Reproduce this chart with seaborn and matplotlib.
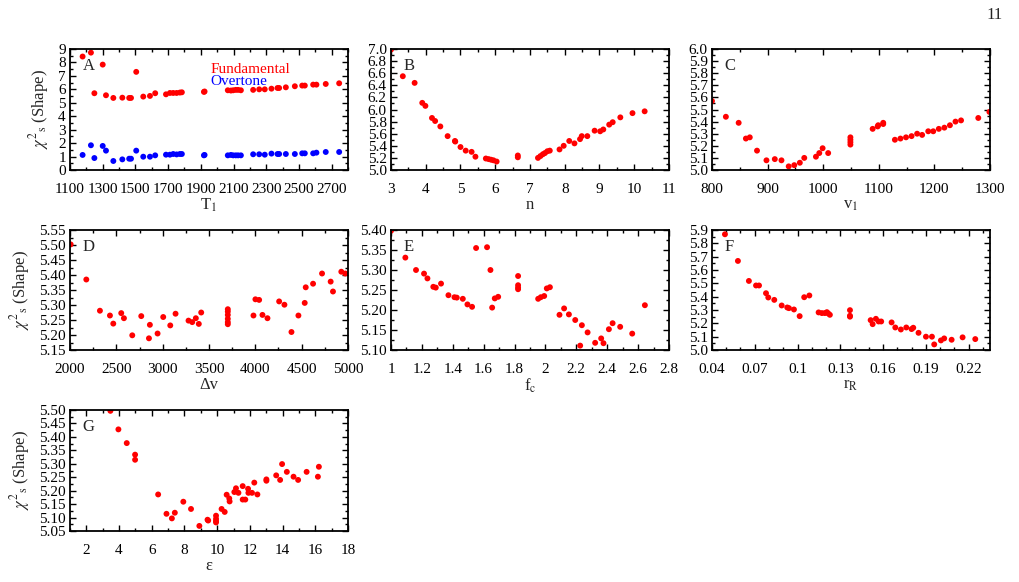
import numpy as np
import pandas as pd
import matplotlib
matplotlib.use("Agg")
import matplotlib.pyplot as plt
import seaborn as sns
from matplotlib.ticker import MultipleLocator, FixedLocator, AutoMinorLocator, FuncFormatter

# ---------------- data ----------------
A_T1 = [1177, 1228, 1249, 1300, 1320, 1365, 1420, 1462, 1473, 1505, 1548, 1589, 1621,
        1687, 1711, 1731, 1752, 1772, 1784, 1919, 1923, 2065, 2084, 2098, 2114, 2128,
        2145, 2220, 2257, 2291, 2332, 2369, 2379, 2420, 2475, 2520, 2536, 2587, 2607,
        2664, 2746]
A_fund = [8.44, 8.73, 5.71, 7.84, 5.56, 5.36, 5.38, 5.36, 5.36, 7.30, 5.46, 5.51, 5.71,
          5.63, 5.73, 5.73, 5.73, 5.76, 5.78, 5.81, 5.84, 5.93, 5.91, 5.93, 5.96, 5.96,
          5.93, 5.96, 6.00, 6.00, 6.05, 6.10, 6.10, 6.15, 6.23, 6.28, 6.28, 6.35, 6.35,
          6.40, 6.45]
A_over = [1.12, 1.84, 0.89, 1.79, 1.44, 0.67, 0.79, 0.84, 0.84, 1.44, 0.99, 0.99, 1.09,
          1.14, 1.14, 1.19, 1.16, 1.19, 1.19, 1.09, 1.12, 1.09, 1.12, 1.09, 1.09, 1.09,
          1.09, 1.17, 1.17, 1.14, 1.22, 1.19, 1.19, 1.19, 1.19, 1.24, 1.24, 1.24, 1.29,
          1.34, 1.34]

B_n = [3.00, 3.34, 3.68, 3.90, 3.99, 4.18, 4.27, 4.42, 4.63, 4.84, 4.85, 5.00, 5.15, 5.32,
       5.43, 5.73, 5.81, 5.88, 5.95, 6.04, 6.65, 6.65, 7.23, 7.30, 7.37, 7.43, 7.50, 7.57,
       7.85, 7.97, 8.13, 8.28, 8.44, 8.49, 8.65, 8.86, 9.02, 9.11, 9.28, 9.38, 9.60, 9.95,
       10.30]
B_chi = [6.99, 6.55, 6.44, 6.11, 6.06, 5.86, 5.81, 5.72, 5.56, 5.48, 5.47, 5.38, 5.32, 5.30,
         5.22, 5.19, 5.18, 5.17, 5.16, 5.14, 5.24, 5.21, 5.20, 5.23, 5.26, 5.28, 5.31, 5.32,
         5.34, 5.40, 5.48, 5.44, 5.51, 5.56, 5.56, 5.65, 5.64, 5.67, 5.75, 5.79, 5.87, 5.94,
         5.97]

C_v1 = [800, 825, 848, 861, 868, 881, 898, 913, 925, 938, 948, 958, 966, 987, 993, 999,
        1009, 1049, 1049, 1049, 1049, 1089, 1098, 1099, 1108, 1108, 1129, 1139, 1149, 1159,
        1169, 1178, 1189, 1198, 1208, 1218, 1228, 1238, 1248, 1279, 1299]
C_chi = [5.57, 5.44, 5.39, 5.26, 5.27, 5.16, 5.08, 5.09, 5.08, 5.03, 5.04, 5.06, 5.10, 5.11,
         5.14, 5.18, 5.14, 5.27, 5.25, 5.23, 5.21, 5.34, 5.36, 5.37, 5.38, 5.39, 5.25, 5.26,
         5.27, 5.28, 5.30, 5.29, 5.32, 5.32, 5.34, 5.35, 5.37, 5.40, 5.41, 5.43, 5.48]

D_dv = [2007, 2176, 2323, 2431, 2467, 2553, 2582, 2672, 2769, 2862, 2852, 2945, 3006, 3082,
        3139, 3279, 3319, 3358, 3390, 3416, 3703, 3703, 3703, 3703, 3703, 3703, 3980, 4001,
        4041, 4077, 4131, 4257, 4314, 4390, 4465, 4533, 4544, 4623, 4720, 4813, 4838, 4928,
        4971]
D_chi = [5.502, 5.385, 5.281, 5.265, 5.238, 5.273, 5.256, 5.199, 5.263, 5.234, 5.189, 5.205,
         5.260, 5.232, 5.271, 5.248, 5.243, 5.256, 5.237, 5.275, 5.286, 5.278, 5.267, 5.254,
         5.243, 5.236, 5.265, 5.319, 5.317, 5.267, 5.256, 5.312, 5.301, 5.210, 5.265, 5.307,
         5.359, 5.371, 5.405, 5.378, 5.345, 5.411, 5.405]

E_fc = [1.000, 1.093, 1.162, 1.214, 1.236, 1.274, 1.290, 1.324, 1.372, 1.411, 1.426, 1.465,
        1.495, 1.525, 1.551, 1.622, 1.644, 1.655, 1.672, 1.694, 1.823, 1.823, 1.823, 1.823,
        1.953, 1.970, 1.992, 2.009, 2.029, 2.091, 2.121, 2.152, 2.193, 2.225, 2.236, 2.273,
        2.322, 2.361, 2.376, 2.411, 2.435, 2.484, 2.562, 2.644]
E_chi = [5.398, 5.331, 5.300, 5.291, 5.279, 5.258, 5.256, 5.266, 5.237, 5.232, 5.231, 5.228,
         5.214, 5.208, 5.355, 5.357, 5.300, 5.206, 5.229, 5.233, 5.285, 5.262, 5.256, 5.252,
         5.228, 5.232, 5.235, 5.254, 5.257, 5.188, 5.204, 5.189, 5.175, 5.111, 5.162, 5.144,
         5.118, 5.129, 5.117, 5.152, 5.167, 5.158, 5.141, 5.212]

F_rR = [0.0491, 0.0582, 0.0659, 0.0709, 0.0730, 0.0779, 0.0795, 0.0837, 0.0889, 0.0928,
        0.0940, 0.0975, 0.1015, 0.1047, 0.1083, 0.1148, 0.1171, 0.1192, 0.1206, 0.1216,
        0.1227, 0.1368, 0.1368, 0.1368, 0.1513, 0.1527, 0.1550, 0.1569, 0.1587, 0.1660,
        0.1686, 0.1725, 0.1763, 0.1800, 0.1812, 0.1849, 0.1901, 0.1943, 0.1959, 0.2006,
        0.2029, 0.2081, 0.2158, 0.2247]
F_chi = [5.868, 5.668, 5.518, 5.484, 5.484, 5.426, 5.394, 5.376, 5.334, 5.319, 5.314, 5.304,
         5.254, 5.396, 5.409, 5.282, 5.277, 5.277, 5.284, 5.274, 5.264, 5.299, 5.257, 5.250,
         5.224, 5.194, 5.234, 5.214, 5.214, 5.207, 5.169, 5.154, 5.169, 5.157, 5.167, 5.129,
         5.100, 5.100, 5.042, 5.072, 5.087, 5.077, 5.095, 5.082]

G_eps = [3.47, 3.96, 4.47, 4.98, 4.98, 6.39, 6.90, 7.23, 7.41, 7.93, 8.40, 8.91, 9.41, 9.45,
         9.93, 9.93, 9.93, 9.93, 10.27, 10.46, 10.58, 10.74, 10.76, 11.05, 11.15, 11.30,
         11.56, 11.56, 11.72, 11.89, 11.91, 12.13, 12.27, 12.46, 13.01, 13.01, 13.61, 13.85,
         13.97, 14.26, 14.67, 14.95, 15.47, 16.16, 16.22]
G_chi = [5.497, 5.428, 5.377, 5.334, 5.315, 5.186, 5.114, 5.097, 5.118, 5.159, 5.132, 5.069,
         5.092, 5.089, 5.107, 5.095, 5.087, 5.082, 5.132, 5.121, 5.185, 5.171, 5.160, 5.195,
         5.209, 5.192, 5.217, 5.167, 5.167, 5.207, 5.192, 5.192, 5.230, 5.186, 5.242, 5.237,
         5.257, 5.240, 5.299, 5.270, 5.252, 5.240, 5.270, 5.252, 5.289]

# ---------------- style ----------------
sns.set_style("ticks")
plt.rcParams['font.family'] = ['Liberation Serif', 'DejaVu Serif']
plt.rcParams['mathtext.fontset'] = 'stix'
plt.rcParams.update({
    'xtick.direction': 'in', 'ytick.direction': 'in',
    'xtick.top': True, 'ytick.right': True,
    'xtick.major.size': 4, 'ytick.major.size': 4,
    'xtick.minor.size': 2.5, 'ytick.minor.size': 2.5,
    'xtick.major.width': 1.0, 'ytick.major.width': 1.0,
    'xtick.minor.width': 1.0, 'ytick.minor.width': 1.0,
    'axes.linewidth': 1.3, 'axes.edgecolor': 'black',
    'xtick.color': 'black', 'ytick.color': 'black',
    'xtick.labelsize': 11, 'ytick.labelsize': 11,
    'xtick.major.pad': 9, 'ytick.major.pad': 3,
})

fig = plt.figure(figsize=(10.19, 5.82), dpi=100)

W = 0.2728
rows = [(0.7079, 0.2079), (0.3986, 0.2062), (0.0876, 0.2079)]
cols = [0.0687, 0.3837, 0.6987]

gfmt = FuncFormatter(lambda v, p: ('%g' % round(v, 6)))

ylabel = r'$\chi^{2}{}_{\mathrm{s}}$ (Shape)'
RED = '#ff0000'
BLUE = '#0000ff'
S = 18


def make_ax(r, c):
    b, h = rows[r]
    return fig.add_axes([cols[c], b, W, h])


def finish(ax, label, xl, xlim, ylim, xmaj, xmin_loc, ymaj, ymin_loc, yfmt, xfmt=gfmt, show_ylabel=False):
    ax.set_xlim(*xlim)
    ax.set_ylim(*ylim)
    ax.xaxis.set_major_locator(xmaj)
    ax.xaxis.set_minor_locator(xmin_loc)
    ax.yaxis.set_major_locator(ymaj)
    ax.yaxis.set_minor_locator(ymin_loc)
    ax.xaxis.set_major_formatter(xfmt)
    ax.yaxis.set_major_formatter(yfmt)
    ax.set_xlabel(xl, fontsize=12, labelpad=1)
    if show_ylabel:
        ax.set_ylabel(ylabel, fontsize=12, labelpad=5)
    else:
        ax.set_ylabel('')
    ax.text(0.045, 0.86, label, transform=ax.transAxes, fontsize=12, va='center', ha='left')
    for sp in ax.spines.values():
        sp.set_visible(True)


# A
ax = make_ax(0, 0)
dfA = pd.DataFrame({'T1': A_T1, 'fund': A_fund, 'over': A_over})
sns.scatterplot(data=dfA, x='T1', y='fund', color=RED, s=S, edgecolor='none', ax=ax, legend=False)
sns.scatterplot(data=dfA, x='T1', y='over', color=BLUE, s=S, edgecolor='none', ax=ax, legend=False)
finish(ax, 'A', r'T$_1$', (1100, 2800), (0, 9),
       FixedLocator(list(range(1100, 2800, 200))), MultipleLocator(100),
       MultipleLocator(1), MultipleLocator(0.5), FuncFormatter(lambda v, p: '%d' % v),
       show_ylabel=True)
ax.text(0.505, 0.83, 'Fundamental', color=RED, transform=ax.transAxes, fontsize=11, va='center')
ax.text(0.505, 0.735, 'Overtone', color=BLUE, transform=ax.transAxes, fontsize=11, va='center')

# B
ax = make_ax(0, 1)
sns.scatterplot(x=B_n, y=B_chi, color=RED, s=S, edgecolor='none', ax=ax, legend=False)
finish(ax, 'B', 'n', (3, 11), (5.0, 7.0), MultipleLocator(1), MultipleLocator(0.5),
       MultipleLocator(0.2), MultipleLocator(0.1), FuncFormatter(lambda v, p: '%.1f' % v))

# C
ax = make_ax(0, 2)
sns.scatterplot(x=C_v1, y=C_chi, color=RED, s=S, edgecolor='none', ax=ax, legend=False)
finish(ax, 'C', r'v$_1$', (800, 1300), (5.0, 6.0), MultipleLocator(100), MultipleLocator(50),
       MultipleLocator(0.1), MultipleLocator(0.05), FuncFormatter(lambda v, p: '%.1f' % v))

# D
ax = make_ax(1, 0)
sns.scatterplot(x=D_dv, y=D_chi, color=RED, s=S, edgecolor='none', ax=ax, legend=False)
finish(ax, 'D', 'Δv', (2000, 5000), (5.15, 5.55), MultipleLocator(500), MultipleLocator(250),
       MultipleLocator(0.05), MultipleLocator(0.025), FuncFormatter(lambda v, p: '%.2f' % v),
       show_ylabel=True)

# E
ax = make_ax(1, 1)
sns.scatterplot(x=E_fc, y=E_chi, color=RED, s=S, edgecolor='none', ax=ax, legend=False)
finish(ax, 'E', r'f$_{\mathrm{c}}$', (1.0, 2.8), (5.10, 5.40), MultipleLocator(0.2), MultipleLocator(0.1),
       MultipleLocator(0.05), MultipleLocator(0.025), FuncFormatter(lambda v, p: '%.2f' % v))

# F
ax = make_ax(1, 2)
sns.scatterplot(x=F_rR, y=F_chi, color=RED, s=S, edgecolor='none', ax=ax, legend=False)
finish(ax, 'F', r'r$_{\mathrm{R}}$', (0.04, 0.235), (5.0, 5.9),
       FixedLocator([0.04, 0.07, 0.10, 0.13, 0.16, 0.19, 0.22]), MultipleLocator(0.01),
       MultipleLocator(0.1), MultipleLocator(0.05), FuncFormatter(lambda v, p: '%.1f' % v))

# G
ax = make_ax(2, 0)
sns.scatterplot(x=G_eps, y=G_chi, color=RED, s=S, edgecolor='none', ax=ax, legend=False)
finish(ax, 'G', 'ε', (1, 18), (5.05, 5.50), FixedLocator(list(range(2, 19, 2))), MultipleLocator(1),
       MultipleLocator(0.05), MultipleLocator(0.025), FuncFormatter(lambda v, p: '%.2f' % v),
       show_ylabel=True)

fig.text(0.984, 0.975, '11', fontsize=12, ha='right', va='center')

fig.savefig('out.png', dpi=100)
